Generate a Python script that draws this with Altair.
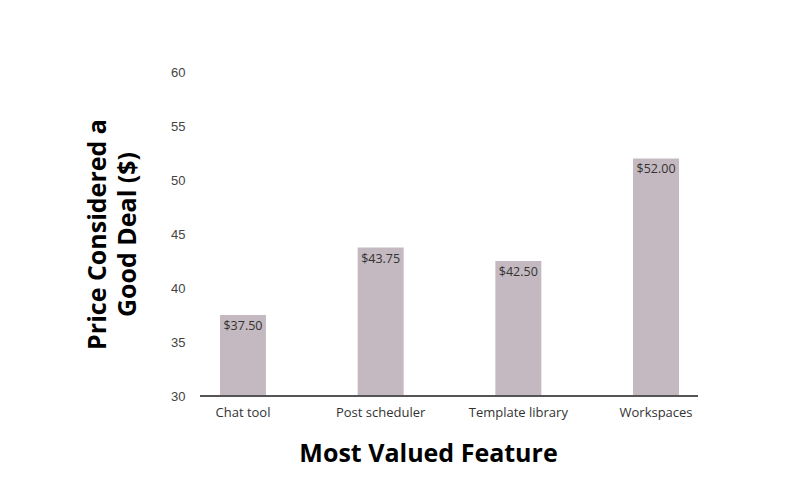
import altair as alt
import pandas as pd

features = ["Chat tool", "Post scheduler", "Template library", "Workspaces"]
prices = [37.50, 43.75, 42.50, 52.00]
labels = ["$37.50", "$43.75", "$42.50", "$52.00"]
y_ticks = [30, 35, 40, 45, 50, 55, 60]
y_floor = 30

df = pd.DataFrame({"feature": features, "price": prices, "label": labels})

W, H = 551, 324

x_enc = alt.X(
    "feature:N",
    sort=features,
    scale=alt.Scale(paddingInner=0.666, paddingOuter=0.334),
    axis=alt.Axis(
        title="Most Valued Feature",
        titleFont="Open Sans",
        titleFontSize=25,
        titleFontWeight="bold",
        titleColor="#000000",
        titleX=254,
        titleY=65,
        titleBaseline="alphabetic",
        titleAnchor="start",
        titleAlign="center",
        labelAngle=0,
        labelFont="Open Sans",
        labelFontSize=13,
        labelColor="#333333",
        labelPadding=10,
        ticks=False,
        domain=False,
    ),
)

y_enc = alt.Y(
    "price:Q",
    scale=alt.Scale(domain=[30, 60], nice=False, zero=False),
    axis=alt.Axis(
        values=y_ticks,
        title=["Price Considered a", "Good Deal ($)"],
        titleFont="Open Sans",
        titleFontSize=25,
        titleFontWeight="bold",
        titleColor="#000000",
        titleX=-103,
        titleY=162,
        titleAngle=-90,
        titleBaseline="middle",
        titleAlign="center",
        titleLineHeight=30,
        labelFont="Liberation Sans",
        labelFontSize=13,
        labelColor="#444444",
        labelPadding=15,
        ticks=False,
        domain=False,
        grid=False,
        offset=-26,
    ),
)

bars = alt.Chart(df).mark_bar(color="#c4b9c0").encode(
    x=x_enc, y=y_enc, y2=alt.datum(y_floor)
)

text = alt.Chart(df).mark_text(
    baseline="top", dy=5, font="Open Sans", fontSize=12.5, color="#333333"
).encode(x=alt.X("feature:N", sort=features), y="price:Q", text="label:N")

base_line = alt.Chart(df).mark_rule(color="#555555", strokeWidth=1.5).encode(
    x=alt.value(26), x2=alt.value(524), y=alt.value(H)
)

chart = (
    alt.layer(bars, text, base_line)
    .properties(
        width=W,
        height=H,
        autosize=alt.AutoSizeParams(type="none"),
        padding={"left": 166, "top": 64, "right": 77, "bottom": 88},
        background="#ffffff",
    )
    .configure_view(stroke=None)
)

chart.save("out.html", embed_options={"renderer": "svg", "actions": False})
